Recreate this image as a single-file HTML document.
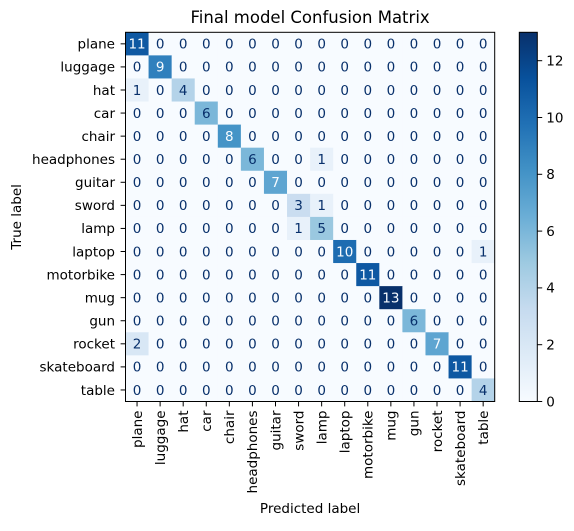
<!DOCTYPE html>
<html><head><meta charset="utf-8"><style>
body{margin:0;background:#fff;}
svg text{font-family:"DejaVu Sans","Liberation Sans",sans-serif;}
</style></head><body>
<svg id="chart" width="574" height="526" xmlns="http://www.w3.org/2000/svg">
<rect width="574" height="526" fill="#fff"/>
<g id="g"></g>
</svg>
<script>
const labels=["plane","luggage","hat","car","chair","headphones","guitar","sword","lamp","laptop","motorbike","mug","gun","rocket","skateboard","table"];
const matrix=[
[11,0,0,0,0,0,0,0,0,0,0,0,0,0,0,0],
[0,9,0,0,0,0,0,0,0,0,0,0,0,0,0,0],
[1,0,4,0,0,0,0,0,0,0,0,0,0,0,0,0],
[0,0,0,6,0,0,0,0,0,0,0,0,0,0,0,0],
[0,0,0,0,8,0,0,0,0,0,0,0,0,0,0,0],
[0,0,0,0,0,6,0,0,1,0,0,0,0,0,0,0],
[0,0,0,0,0,0,7,0,0,0,0,0,0,0,0,0],
[0,0,0,0,0,0,0,3,1,0,0,0,0,0,0,0],
[0,0,0,0,0,0,0,1,5,0,0,0,0,0,0,0],
[0,0,0,0,0,0,0,0,0,10,0,0,0,0,0,1],
[0,0,0,0,0,0,0,0,0,0,11,0,0,0,0,0],
[0,0,0,0,0,0,0,0,0,0,0,13,0,0,0,0],
[0,0,0,0,0,0,0,0,0,0,0,0,6,0,0,0],
[2,0,0,0,0,0,0,0,0,0,0,0,0,7,0,0],
[0,0,0,0,0,0,0,0,0,0,0,0,0,0,11,0],
[0,0,0,0,0,0,0,0,0,0,0,0,0,0,0,4]];
const cbTicks=[0,2,4,6,8,10,12];
const stops=["#f7fbff","#deebf7","#c6dbef","#9ecae1","#6baed6","#4292c6","#2171b5","#08519c","#08306b"];
const X0=125.5,Y0=32.3,W=369.2,N=labels.length,C=W/N;
let vmin=Infinity,vmax=-Infinity;matrix.forEach(r=>r.forEach(v=>{vmin=Math.min(vmin,v);vmax=Math.max(vmax,v);}));
function hex(h){return [1,3,5].map(i=>parseInt(h.substr(i,2),16));}
function cmap(t){t=Math.max(0,Math.min(1,t));const p=t*8,i=Math.min(7,Math.floor(p)),f=p-i;const a=hex(stops[i]),b=hex(stops[i+1]);return "rgb("+a.map((x,k)=>Math.round(x+(b[k]-x)*f)).join(",")+")";}
const xs=j=>X0+j*C, ys=i=>Y0+i*C;
const g=document.getElementById('g');
function el(tag,attrs,txt){const e=document.createElementNS("http://www.w3.org/2000/svg",tag);for(const k in attrs)e.setAttribute(k,attrs[k]);if(txt!=null)e.textContent=txt;g.appendChild(e);return e;}
matrix.forEach((row,i)=>row.forEach((v,j)=>{
 const t=(v-vmin)/(vmax-vmin);
 const r=el('rect',{x:xs(j),y:ys(i),width:C+0.4,height:C+0.4,fill:cmap(t)});
 
 
 const tx=el('text',{x:xs(j)+C/2,y:ys(i)+C/2+4.8,'text-anchor':'middle','font-size':'13.5',fill:v>(vmax+vmin)/2?cmap(0):cmap(1)},v);
 
 
}));
const fr=el('rect',{x:X0,y:Y0,width:W,height:W,fill:'none',stroke:'#000','stroke-width':1});


labels.forEach((l,i)=>{
 el('line',{x1:X0-4.9,x2:X0,y1:ys(i)+C/2,y2:ys(i)+C/2,stroke:'#000'});
 const t=el('text',{x:X0-10.5,y:ys(i)+C/2+4.8,'text-anchor':'end','font-size':'13.5',fill:'#000'},l);
 
 
 const x=xs(i)+C/2;
 el('line',{x1:x,x2:x,y1:Y0+W,y2:Y0+W+4.9,stroke:'#000'});
 const t2=el('text',{x:0,y:0,'text-anchor':'end','font-size':'13.5',fill:'#000',transform:`translate(${x+4.8},${Y0+W+9}) rotate(-90)`},l);
 
 
});
const ti=el('text',{x:X0+W/2,y:23,'text-anchor':'middle','font-size':'16.5',fill:'#000'},'Final model Confusion Matrix');


const xl=el('text',{x:X0+W/2,y:513,'text-anchor':'middle','font-size':'13.5',fill:'#000'},'Predicted label');


const yl=el('text',{x:0,y:0,'text-anchor':'middle','font-size':'13.5',fill:'#000',transform:`translate(21,${Y0+W/2}) rotate(-90)`},'True label');


const CX=519.3,CW=18;
const cy=v=>Y0+W-(v-vmin)/(vmax-vmin)*W;
const defs=el('defs',{});
const lg=document.createElementNS("http://www.w3.org/2000/svg","linearGradient");
lg.setAttribute('id','cbg');lg.setAttribute('x1','0');lg.setAttribute('y1','1');lg.setAttribute('x2','0');lg.setAttribute('y2','0');
stops.forEach((s,k)=>{const st=document.createElementNS("http://www.w3.org/2000/svg","stop");st.setAttribute('offset',k/8);st.setAttribute('stop-color',s);lg.appendChild(st);});
defs.appendChild(lg);
const cb=el('rect',{x:CX,y:Y0,width:CW,height:W,fill:'url(#cbg)',stroke:'#000','stroke-width':1});


cbTicks.forEach(v=>{
 el('line',{x1:CX+CW,x2:CX+CW+4.9,y1:cy(v),y2:cy(v),stroke:'#000'});
 const t=el('text',{x:CX+CW+9,y:cy(v)+4.8,'font-size':'13.5',fill:'#000'},v);
 
 
});
</script>
</body></html>
